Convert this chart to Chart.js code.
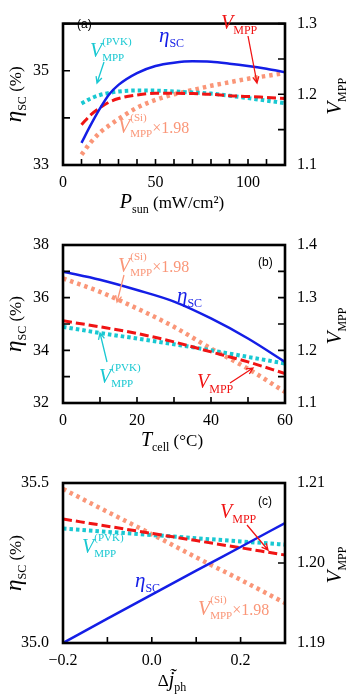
<!DOCTYPE html>
<html>
<head>
<meta charset="utf-8">
<script src="https://cdn.jsdelivr.net/npm/chart.js@4.4.1/dist/chart.umd.min.js"></script>
<style>
    body { margin: 0; background: #fff; }
    #wrap { position: relative; width: 350px; height: 694px; overflow: hidden; }
    canvas { position: absolute; left: 0; }
</style>
</head>
<body>
<div id="wrap">
    <canvas id="chartA" width="350" height="215" style="top:0px"></canvas>
    <canvas id="chartB" width="350" height="242" style="top:215px"></canvas>
    <canvas id="chartC" width="350" height="249" style="top:445px"></canvas>
</div>
<script>
// panel (a): sweep of P_sun (mW/cm2)
const pSun = [10, 15, 20, 25, 30, 40, 50, 60, 70, 80, 90, 100, 110, 120];
const etaA = [33.47, 33.85, 34.2, 34.5, 34.7, 34.95, 35.1, 35.17, 35.2, 35.19, 35.15, 35.1, 35.04, 34.97];
const vmppA = [1.157, 1.171, 1.181, 1.189, 1.194, 1.199, 1.2015, 1.2015, 1.201, 1.2, 1.198, 1.197, 1.1955, 1.194];
const vpvkA = [1.187, 1.194, 1.199, 1.202, 1.204, 1.2054, 1.2052, 1.204, 1.2025, 1.201, 1.198, 1.1946, 1.191, 1.1875];
const vsiA = [1.1146, 1.132, 1.146, 1.156, 1.165, 1.181, 1.192, 1.2, 1.206, 1.212, 1.217, 1.222, 1.226, 1.23];

// panel (b): sweep of T_cell (°C)
const tCell = [0, 10, 20, 30, 40, 50, 60];
const etaB = [36.99, 36.68, 36.29, 35.85, 35.21, 34.45, 33.56];
const vmppB = [1.256, 1.2446, 1.232, 1.216, 1.197, 1.178, 1.156];
const vpvkB = [1.2446, 1.233, 1.2224, 1.2116, 1.2, 1.1875, 1.175];
const vsiB = [1.3365, 1.311, 1.2795, 1.2446, 1.2034, 1.165, 1.121];

// panel (c): sweep of delta j_ph
const dJph = [-0.2, -0.1, 0, 0.1, 0.2, 0.3];
const etaC = [35.0, 35.076, 35.151, 35.226, 35.3, 35.375];
const vmppC = [1.2055, 1.2046, 1.2037, 1.2028, 1.2019, 1.201];
const vpvkC = [1.2043, 1.2039, 1.2035, 1.2031, 1.2027, 1.2023];
const vsiC = [1.20925, 1.2064, 1.2036, 1.2007, 1.1979, 1.195];

const BLUE = 'rgb(20,30,230)';
const RED = 'rgb(240,20,20)';
const CYAN = 'rgb(25,200,210)';
const SALMON = 'rgb(250,150,120)';

const SERIF = '"Liberation Serif", "Times New Roman", serif';
const F = {
    tick: '16px ' + SERIF,
    norm: '17px ' + SERIF,
    num: '16px ' + SERIF,
    itl: 'italic 20px ' + SERIF,
    eta: 'italic 21px ' + SERIF,
    sub: '12px ' + SERIF,
    small: '11px ' + SERIF,
    tag: '12px "Liberation Sans", Arial, sans-serif'
};

const pts = (xs, ys) => xs.map((x, i) => ({ x: x, y: ys[i] }));

function makeDatasets(xs, eta, vmpp, vpvk, vsi) {
    return [
        { data: pts(xs, eta), yAxisID: 'y', borderColor: BLUE, borderWidth: 2.5 },
        { data: pts(xs, vmpp), yAxisID: 'y1', borderColor: RED, borderWidth: 3, borderDash: [9, 4] },
        { data: pts(xs, vpvk), yAxisID: 'y1', borderColor: CYAN, borderWidth: 4, borderDash: [3.5, 3] },
        { data: pts(xs, vsi), yAxisID: 'y1', borderColor: SALMON, borderWidth: 4.5, borderDash: [3.5, 4] }
    ].map(d => Object.assign(d, { pointRadius: 0, fill: false, cubicInterpolationMode: 'monotone' }));
}

const isMult = (v, m) => Math.abs(v / m - Math.round(v / m)) < 1e-6;
const fmt = (v, d) => v.toFixed(d).replace('-', '\u2212');

function axis(pos, min, max, step, label, size, pad) {
    const a = {
        type: 'linear', position: pos, min: min, max: max,
        grid: { display: false, drawTicks: false },
        border: { display: false },
        ticks: { stepSize: step, callback: label, font: { family: SERIF, size: 16 }, color: '#000', padding: pad, autoSkip: false, maxRotation: 0 }
    };
    if (pos === 'bottom') a.afterFit = s => { s.height = size; };
    else a.afterFit = s => { s.width = size; };
    return a;
}

// ---- drawing helpers for mixed sub/superscript text ----
function richWidth(ctx, parts) {
    let w = 0;
    for (const p of parts) {
        ctx.font = p.f;
        if (p.sup !== undefined) w += Math.max(ctx.measureText(p.sup).width, ctx.measureText(p.sub).width);
        else w += ctx.measureText(p.t).width;
    }
    return w;
}

function rich(ctx, x, y, parts, color) {
    ctx.fillStyle = color;
    ctx.textAlign = 'left';
    ctx.textBaseline = 'alphabetic';
    let cx = x;
    for (const p of parts) {
        ctx.font = p.f;
        if (p.sup !== undefined) {
            ctx.fillText(p.sup, cx, y + (p.supDy || -12));
            ctx.fillText(p.sub, cx, y + (p.subDy || 4));
            cx += Math.max(ctx.measureText(p.sup).width, ctx.measureText(p.sub).width);
        } else {
            ctx.fillText(p.t, cx, y + (p.dy || 0));
            cx += ctx.measureText(p.t).width;
        }
    }
}

function richCentered(ctx, cx, cy, parts, color, rot) {
    const w = richWidth(ctx, parts);
    ctx.save();
    ctx.translate(cx, cy);
    ctx.rotate(rot || 0);
    rich(ctx, -w / 2, 0, parts, color);
    ctx.restore();
}

function arrow(ctx, x1, y1, x2, y2, color) {
    const ang = Math.atan2(y2 - y1, x2 - x1);
    const L = 7, s = 0.45;
    ctx.save();
    ctx.strokeStyle = color;
    ctx.lineWidth = 1.3;
    ctx.beginPath();
    ctx.moveTo(x1, y1);
    ctx.lineTo(x2, y2);
    ctx.moveTo(x2 - L * Math.cos(ang - s), y2 - L * Math.sin(ang - s));
    ctx.lineTo(x2, y2);
    ctx.lineTo(x2 - L * Math.cos(ang + s), y2 - L * Math.sin(ang + s));
    ctx.stroke();
    ctx.restore();
}

const etaLbl = [{ t: '\u03B7', f: F.eta }, { t: 'SC', f: F.sub, dy: 5 }];
const vmppLbl = [{ t: 'V', f: F.itl }, { t: 'MPP', f: F.sub, dy: 5 }];
const pvkLbl = [{ t: 'V', f: F.itl }, { sup: '(PVK)', sub: 'MPP', f: F.small }];
const siLbl = [{ t: 'V', f: F.itl }, { sup: '(Si)', sub: 'MPP', f: F.small }, { t: '\u00D71.98', f: F.num }];

const leftTitle = [{ t: '\u03B7', f: 'italic 23px ' + SERIF }, { t: 'SC', f: F.sub, dy: 5 }, { t: ' (%)', f: F.norm }];
const rightTitle = [{ t: 'V', f: 'italic 21px ' + SERIF }, { t: 'MPP', f: F.sub, dy: 5 }];

// frame, inward ticks, axis titles and notes
const decor = {
    id: 'decor',
    afterDraw(chart) {
        const ctx = chart.ctx;
        const a = chart.chartArea;
        const cfg = chart.options.plugins.decor;
        ctx.save();
        ctx.strokeStyle = '#000';
        ctx.lineWidth = 1.6;
        ctx.beginPath();
        const xs = chart.scales.x;
        xs.ticks.forEach(t => {
            const px = xs.getPixelForValue(t.value);
            ctx.moveTo(px, a.bottom);
            ctx.lineTo(px, a.bottom - 6);
        });
        const yl = chart.scales.y;
        yl.ticks.forEach(t => {
            const py = yl.getPixelForValue(t.value);
            ctx.moveTo(a.left, py);
            ctx.lineTo(a.left + 7, py);
        });
        const yr = chart.scales.y1;
        yr.ticks.forEach(t => {
            const py = yr.getPixelForValue(t.value);
            ctx.moveTo(a.right, py);
            ctx.lineTo(a.right - 7, py);
        });
        ctx.stroke();
        ctx.lineWidth = 2.6;
        ctx.strokeRect(a.left, a.top, a.right - a.left, a.bottom - a.top);
        ctx.restore();

        const midY = (a.top + a.bottom) / 2;
        richCentered(ctx, 21, midY, leftTitle, '#000', -Math.PI / 2);
        richCentered(ctx, 341, midY + 2, rightTitle, '#000', -Math.PI / 2);
        richCentered(ctx, 172, a.bottom + 43, cfg.xTitle, '#000', 0);

        ctx.font = F.tag;
        ctx.fillStyle = '#000';
        ctx.fillText(cfg.tag[0], cfg.tag[1], cfg.tag[2]);
        cfg.notes.forEach(n => rich(ctx, n[1], n[2], n[0], n[3]));
        cfg.arrows.forEach(r => arrow(ctx, r[0], r[1], r[2], r[3], r[4]));
    }
};

function makeChart(id, xs, eta, vmpp, vpvk, vsi, sc, deco) {
    return new Chart(document.getElementById(id), {
        type: 'line',
        data: { datasets: makeDatasets(xs, eta, vmpp, vpvk, vsi) },
        options: {
            responsive: false,
            animation: false,
            layout: { autoPadding: false, padding: { top: sc.top, left: 0, right: 0, bottom: 0 } },
            plugins: { legend: { display: false }, tooltip: { enabled: false }, decor: deco },
            scales: {
                x: axis('bottom', sc.x[0], sc.x[1], sc.x[2], sc.xl, sc.xh, 8),
                y: axis('left', sc.y[0], sc.y[1], sc.y[2], sc.yl, 63, 14),
                y1: axis('right', sc.y1[0], sc.y1[1], sc.y1[2], sc.y1l, 65, 12)
            }
        },
        plugins: [decor]
    });
}

makeChart('chartA', pSun, etaA, vmppA, vpvkA, vsiA, {
    top: 5, xh: 50,
    x: [0, 120, 10], xl: v => isMult(v, 50) ? String(v) : '',
    y: [33, 36, 1], yl: v => (v === 33 || v === 35) ? String(v) : '',
    y1: [1.1, 1.3, 0.05], y1l: v => isMult(v, 0.1) ? fmt(v, 1) : ''
}, {
    xTitle: [{ t: 'P', f: F.itl }, { t: 'sun', f: F.sub, dy: 5 }, { t: ' (mW/cm\u00B2)', f: F.norm }],
    tag: ['(a)', 77, 28],
    notes: [
        [etaLbl, 159, 42, BLUE],
        [vmppLbl, 221, 29, RED],
        [pvkLbl, 90, 57, CYAN],
        [siLbl, 118, 133, SALMON]
    ],
    arrows: [[248, 36, 257, 83, RED], [104, 62, 97, 83, CYAN]]
});

makeChart('chartB', tCell, etaB, vmppB, vpvkB, vsiB, {
    top: 30, xh: 54,
    x: [0, 60, 10], xl: v => isMult(v, 20) ? String(v) : '',
    y: [32, 38, 1], yl: v => isMult(v, 2) ? String(v) : '',
    y1: [1.1, 1.4, 0.05], y1l: v => isMult(v, 0.1) ? fmt(v, 1) : ''
}, {
    xTitle: [{ t: 'T', f: F.itl }, { t: 'cell', f: F.sub, dy: 5 }, { t: ' (\u00B0C)', f: F.norm }],
    tag: ['(b)', 258, 51],
    notes: [
        [siLbl, 118, 57, SALMON],
        [etaLbl, 177, 87, BLUE],
        [pvkLbl, 99, 168, CYAN],
        [vmppLbl, 197, 173, RED]
    ],
    arrows: [[124, 60, 117, 87, SALMON], [107, 147, 100, 118, CYAN], [230, 168, 253, 153, RED]]
});

makeChart('chartC', dJph, etaC, vmppC, vpvkC, vsiC, {
    top: 38, xh: 51,
    x: [-0.2, 0.3, 0.1], xl: v => isMult(v, 0.2) ? fmt(v, 1) : '',
    y: [35.0, 35.5, 0.5], yl: v => fmt(v, 1),
    y1: [1.19, 1.21, 0.01], y1l: v => fmt(v, 2)
}, {
    xTitle: [{ t: '\u0394', f: F.norm }, { t: 'j\u0303', f: F.itl }, { t: 'ph', f: F.sub, dy: 5 }],
    tag: ['(c)', 258, 60],
    notes: [
        [vmppLbl, 220, 73, RED],
        [pvkLbl, 82, 108, CYAN],
        [etaLbl, 135, 142, BLUE],
        [siLbl, 198, 170, SALMON]
    ],
    arrows: [[247, 80, 268, 105, RED]]
});
</script>
</body>
</html>
